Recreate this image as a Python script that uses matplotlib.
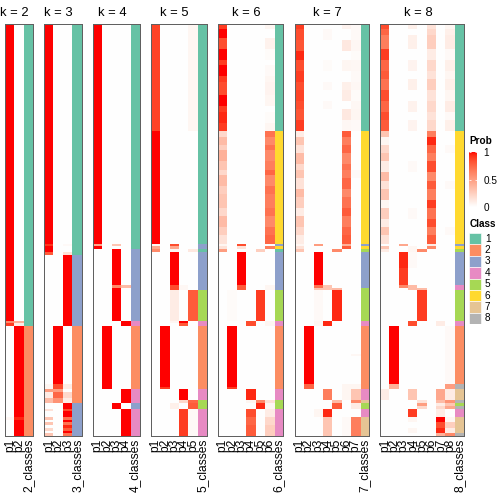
import numpy as np
import matplotlib
matplotlib.use("Agg")
from matplotlib import pyplot as plt
from matplotlib.colors import ListedColormap, to_rgb

plt.rcParams['font.family'] = ['Liberation Sans', 'DejaVu Sans']

n_samples = 150
ks = [2, 3, 4, 5, 6, 7, 8]
class_colors = ['#66C2A5', '#FC8D62', '#8DA0CB', '#E78AC3',
                '#A6D854', '#FFD92F', '#E5C494', '#B3B3B3']
class_labels = ['1', '2', '3', '4', '5', '6', '7', '8']
prob_ticks = [0, 0.5, 1]
prob_tick_labels = ['0', '0.5', '1']

# row blocks, top to bottom: (rows, class, {column: membership prob})
blocks_k2 = [
    (108, 1, {1: 1.0}),
    (1, 1, {1: 0.6, 2: 0.4}),
    (1, 1, {1: 0.9, 2: 0.1}),
    (33, 2, {2: 1.0}),
    (1, 2, {1: 0.04, 2: 0.95}),
    (6, 2, {2: 1.0}),
]

blocks_k3 = [
    (80, 1, {1: 1.0}),
    (1, 1, {1: 0.92, 3: 0.03}),
    (2, 1, {1: 1.0}),
    (1, 1, {1: 0.8, 3: 0.15}),
    (26, 3, {3: 1.0}),
    (21, 2, {2: 1.0}),
    (2, 2, {1: 0.05, 2: 0.85, 3: 0.1}),
    (1, 2, {1: 0.5, 2: 0.5}),
    (2, 2, {1: 0.1, 2: 0.75, 3: 0.2}),
    (2, 2, {1: 0.35, 2: 0.55, 3: 0.1}),
    (2, 3, {3: 1.0}),
    (1, 3, {1: 0.15, 3: 0.85}),
    (2, 3, {3: 1.0}),
    (1, 3, {1: 0.3, 3: 0.7}),
    (1, 3, {3: 1.0}),
    (1, 3, {1: 0.3, 3: 0.7}),
    (1, 3, {3: 0.95}),
    (1, 3, {1: 0.2, 3: 0.8}),
    (1, 3, {3: 1.0}),
    (1, 3, {1: 0.3, 3: 0.7}),
]

blocks_k4 = [
    (80, 1, {1: 1.0}),
    (1, 1, {1: 0.45, 3: 0.3}),
    (1, 1, {1: 1.0}),
    (13, 3, {3: 1.0}),
    (1, 3, {3: 0.6, 4: 0.35}),
    (12, 3, {3: 1.0}),
    (2, 4, {4: 1.0}),
    (23, 2, {2: 1.0}),
    (5, 4, {4: 1.0}),
    (2, 3, {3: 1.0}),
    (10, 4, {4: 1.0}),
]

blocks_k5 = [
    (39, 1, {1: 0.88, 5: 0.05}),
    (41, 1, {1: 1.0}),
    (1, 3, {1: 0.05, 3: 0.85}),
    (1, 3, {1: 0.45, 3: 0.45}),
    (1, 1, {1: 0.6, 3: 0.05, 5: 0.12}),
    (12, 3, {3: 1.0}),
    (2, 3, {3: 0.85, 4: 0.04}),
    (11, 5, {3: 0.1, 5: 0.8}),
    (1, 4, {3: 0.05, 4: 1.0}),
    (1, 4, {4: 0.8}),
    (22, 2, {2: 1.0}),
    (1, 2, {2: 0.9}),
    (4, 4, {4: 1.0}),
    (1, 5, {4: 0.2, 5: 0.75}),
    (2, 5, {3: 0.08, 5: 0.8}),
    (10, 4, {4: 0.9, 5: 0.03}),
]

blocks_k6 = [
    (2, 1, {1: 0.9, 6: 0.05}), (3, 1, {1: 1.0}), (4, 1, {1: 0.85, 6: 0.07}),
    (4, 1, {1: 1.0, 6: 0.02}), (2, 1, {1: 0.9}), (4, 1, {1: 1.0, 6: 0.03}),
    (2, 1, {1: 0.9, 6: 0.05}), (5, 1, {1: 0.85, 6: 0.06}), (4, 1, {1: 1.0, 6: 0.05}),
    (2, 1, {1: 0.9}), (4, 1, {1: 0.95, 6: 0.02}), (3, 1, {1: 0.9, 6: 0.05}),
    (2, 6, {1: 0.2, 6: 0.7}), (3, 6, {1: 0.35, 6: 0.6}), (2, 6, {1: 0.25, 6: 0.7}),
    (4, 6, {1: 0.4, 6: 0.6}), (3, 6, {1: 0.3, 6: 0.65}), (2, 6, {1: 0.2, 6: 0.75}),
    (4, 6, {1: 0.35, 6: 0.6}), (3, 6, {1: 0.25, 6: 0.7}), (5, 6, {1: 0.3, 6: 0.65}),
    (3, 6, {1: 0.2, 6: 0.7}), (4, 6, {1: 0.35, 6: 0.6}), (3, 6, {1: 0.25, 6: 0.7}),
    (3, 6, {1: 0.15, 6: 0.75}),
    (1, 3, {1: 0.05, 3: 0.85}),
    (1, 6, {1: 0.15, 3: 0.15, 6: 0.65}),
    (1, 1, {1: 0.5, 5: 0.25}),
    (12, 3, {3: 1.0}),
    (2, 3, {3: 0.8, 6: 0.05}),
    (11, 5, {2: 0.02, 5: 0.9}),
    (2, 4, {4: 0.85, 6: 0.05}),
    (22, 2, {2: 1.0}),
    (1, 2, {2: 0.9}),
    (4, 4, {4: 0.95}),
    (1, 5, {4: 0.05, 5: 0.6, 6: 0.15}),
    (2, 5, {5: 0.95, 6: 0.05}),
    (3, 4, {4: 0.85, 6: 0.1}), (3, 4, {4: 0.75, 6: 0.2}), (4, 4, {4: 0.8, 6: 0.25}),
]

blocks_k7 = [
    (2, 1, {1: 0.9, 6: 0.06, 7: 0.03}), (4, 1, {1: 0.85, 4: 0.03, 7: 0.03}),
    (4, 1, {1: 0.82, 6: 0.12, 7: 0.04}), (3, 1, {1: 0.95, 7: 0.02}),
    (4, 1, {1: 0.85, 4: 0.02, 6: 0.05, 7: 0.04}), (4, 1, {1: 0.9, 7: 0.03}),
    (3, 1, {1: 0.85, 4: 0.03, 6: 0.08, 7: 0.04}), (4, 1, {1: 0.88, 6: 0.1, 7: 0.02}),
    (3, 1, {1: 0.85, 4: 0.03, 7: 0.04}), (4, 1, {1: 0.82, 6: 0.12, 7: 0.05}),
    (4, 1, {1: 0.9, 6: 0.04, 7: 0.03}),
    (2, 6, {1: 0.1, 6: 0.8}), (3, 6, {1: 0.3, 6: 0.65}), (3, 6, {1: 0.15, 6: 0.75}),
    (4, 6, {1: 0.35, 6: 0.6}), (2, 6, {1: 0.2, 6: 0.7}), (3, 6, {1: 0.3, 6: 0.65, 7: 0.03}),
    (4, 6, {1: 0.15, 6: 0.75}), (3, 6, {1: 0.35, 6: 0.6}), (4, 6, {1: 0.25, 6: 0.7}),
    (3, 6, {1: 0.1, 6: 0.8}), (4, 6, {1: 0.3, 6: 0.65}), (3, 6, {1: 0.2, 6: 0.75}),
    (3, 6, {1: 0.1, 6: 0.8}),
    (1, 3, {1: 0.05, 3: 0.5, 6: 0.4}),
    (1, 6, {1: 0.15, 6: 0.8}),
    (1, 5, {1: 0.3, 5: 0.6}),
    (12, 3, {3: 1.0}),
    (1, 3, {3: 0.7, 4: 0.3}),
    (1, 5, {3: 0.3, 4: 0.3, 5: 0.35}),
    (11, 5, {3: 0.03, 5: 0.95}),
    (2, 4, {3: 0.05, 4: 0.95}),
    (10, 2, {2: 1.0}), (1, 2, {2: 1.0, 7: 0.04}), (10, 2, {2: 1.0}),
    (2, 2, {2: 0.75, 6: 0.05, 7: 0.05}),
    (4, 4, {4: 0.65, 6: 0.05, 7: 0.3}),
    (1, 7, {5: 0.35, 7: 0.6}),
    (2, 5, {5: 0.8, 7: 0.1}),
    (3, 4, {3: 0.05, 4: 0.95}),
    (7, 7, {4: 0.3, 6: 0.03, 7: 0.65}),
]

blocks_k8 = [
    (2, 1, {1: 0.85, 4: 0.08, 6: 0.15, 8: 0.05}), (2, 1, {1: 0.75, 6: 0.2, 8: 0.08}),
    (5, 1, {1: 0.65, 4: 0.08, 6: 0.25, 8: 0.1}), (4, 1, {1: 0.9, 6: 0.1, 8: 0.03}),
    (4, 1, {1: 0.75, 4: 0.06, 6: 0.2, 8: 0.08}), (3, 1, {1: 0.8, 6: 0.15, 8: 0.05}),
    (4, 1, {1: 0.7, 4: 0.08, 6: 0.25, 8: 0.08}), (4, 1, {1: 0.85, 6: 0.15, 8: 0.05}),
    (4, 1, {1: 0.75, 4: 0.07, 6: 0.2, 8: 0.1}), (3, 1, {1: 0.85, 6: 0.15, 8: 0.03}),
    (4, 1, {1: 0.8, 4: 0.06, 6: 0.2, 8: 0.08}),
    (2, 6, {1: 0.3, 6: 0.65}), (3, 6, {1: 0.05, 6: 0.95}), (3, 6, {1: 0.2, 6: 0.75, 8: 0.03}),
    (3, 6, {1: 0.3, 6: 0.65}), (4, 6, {1: 0.1, 4: 0.03, 6: 0.85}), (3, 6, {1: 0.35, 6: 0.6}),
    (3, 6, {1: 0.15, 6: 0.8, 8: 0.03}), (4, 6, {1: 0.3, 6: 0.65}), (3, 6, {1: 0.05, 6: 0.9}),
    (4, 6, {1: 0.25, 4: 0.03, 6: 0.7}), (3, 6, {1: 0.1, 6: 0.85}), (3, 6, {1: 0.3, 6: 0.65, 8: 0.03}),
    (3, 6, {1: 0.15, 6: 0.8}),
    (1, 3, {3: 0.45, 6: 0.1}),
    (1, 6, {1: 0.3, 4: 0.05, 6: 0.6}),
    (1, 5, {1: 0.1, 4: 0.05, 5: 0.6}),
    (6, 3, {3: 0.95, 4: 0.03}), (6, 3, {3: 0.9}),
    (1, 4, {3: 0.6, 4: 0.35}),
    (1, 4, {4: 0.35, 5: 0.35}),
    (11, 5, {5: 0.9}),
    (2, 4, {4: 0.85, 7: 0.1}),
    (21, 2, {2: 1.0, 8: 0.03}),
    (2, 8, {2: 0.4, 8: 0.5}),
    (4, 7, {1: 0.1, 4: 0.3, 7: 0.45, 8: 0.1}),
    (1, 8, {5: 0.15, 7: 0.35, 8: 0.55}),
    (1, 5, {5: 0.5, 7: 0.1, 8: 0.3}),
    (1, 8, {5: 0.2, 7: 0.2, 8: 0.45}),
    (3, 4, {4: 0.9, 7: 0.1}),
    (2, 7, {4: 0.05, 7: 1.0, 8: 0.05}), (2, 7, {7: 0.85, 8: 0.25}), (2, 7, {4: 0.05, 7: 0.95, 8: 0.1}),
    (1, 8, {7: 0.4, 8: 0.6}),
]

all_blocks = {2: blocks_k2, 3: blocks_k3, 4: blocks_k4, 5: blocks_k5,
              6: blocks_k6, 7: blocks_k7, 8: blocks_k8}


# white -> red ramp interpolated in LAB space (like colorRamp2)
def srgb_to_lab(rgb):
    c = np.asarray(rgb, dtype=float)
    lin = np.where(c <= 0.04045, c / 12.92, ((c + 0.055) / 1.055) ** 2.4)
    m = np.array([[0.4124, 0.3576, 0.1805], [0.2126, 0.7152, 0.0722], [0.0193, 0.1192, 0.9505]])
    xyz = m @ lin / np.array([0.95047, 1.0, 1.08883])
    f = np.where(xyz > (6 / 29) ** 3, np.cbrt(xyz), xyz / (3 * (6 / 29) ** 2) + 4 / 29)
    return np.array([116 * f[1] - 16, 500 * (f[0] - f[1]), 200 * (f[1] - f[2])])


def lab_to_srgb(lab):
    L, a, b = lab
    fy = (L + 16) / 116
    f = np.array([fy + a / 500, fy, fy - b / 200])
    xyz = np.where(f > 6 / 29, f ** 3, 3 * (6 / 29) ** 2 * (f - 4 / 29)) * np.array([0.95047, 1.0, 1.08883])
    minv = np.array([[3.2406, -1.5372, -0.4986], [-0.9689, 1.8758, 0.0415], [0.0557, -0.2040, 1.0570]])
    lin = np.clip(minv @ xyz, 0, 1)
    return np.where(lin <= 0.0031308, 12.92 * lin, 1.055 * lin ** (1 / 2.4) - 0.055)


lab0, lab1 = srgb_to_lab(to_rgb('white')), srgb_to_lab(to_rgb('red'))
ramp = [np.clip(lab_to_srgb(lab0 + t * (lab1 - lab0)), 0, 1) for t in np.linspace(0, 1, 256)]
prob_cmap = ListedColormap(ramp)

fig = plt.figure(figsize=(7, 7), dpi=72)
W = H = 504.0
col_w, gap, left0 = 9.33, 11.2, 5.3
top_px, bot_px = 24.0, 436.0

x = left0
for k in ks:
    prob = np.zeros((n_samples, k))
    cls = np.zeros(n_samples, dtype=int)
    r = 0
    for n, c, p in all_blocks[k]:
        for col, v in p.items():
            prob[r:r + n, col - 1] = v
        cls[r:r + n] = c
        r += n
    assert r == n_samples, (k, r)

    img = np.zeros((n_samples, k + 1, 3))
    img[:, :k, :] = prob_cmap(prob)[:, :, :3]
    img[:, k, :] = [to_rgb(class_colors[c - 1]) for c in cls]

    width = (k + 1) * col_w
    ax = fig.add_axes([x / W, 1 - bot_px / H, width / W, (bot_px - top_px) / H])
    ax.imshow(img, aspect='auto', interpolation='nearest',
              extent=(0, k + 1, n_samples, 0))
    ax.set_xticks(np.arange(k + 1) + 0.5)
    ax.set_xticklabels([f"p{i + 1}" for i in range(k)] + [f"{k}_classes"],
                       rotation=90, fontsize=12)
    ax.tick_params(axis='x', length=0, pad=3)
    ax.set_yticks([])
    for s in ax.spines.values():
        s.set_color('#606060')
        s.set_linewidth(1.0)
    fig.text((x + width / 2 - 4.5) / W, 1 - 15.7 / H, f"k = {k}",
             ha='center', va='baseline', fontsize=13)
    x += width + gap

# Prob legend
lx = 469.3
fig.text(lx / W, 1 - 140.7 / H, "Prob", fontsize=10, fontweight='bold', va='center', ha='left')
cax = fig.add_axes([lx / W, 1 - 207.5 / H, 8 / W, 57.5 / H])
grad = np.linspace(0, 1, 200).reshape(-1, 1)
cax.imshow(grad, cmap=prob_cmap, aspect='auto', origin='lower', extent=(0, 1, 0, 1))
cax.set_xticks([])
cax.yaxis.tick_right()
cax.set_yticks(prob_ticks)
cax.set_yticklabels(prob_tick_labels, fontsize=10)
cax.tick_params(axis='y', direction='in', length=2, color='white', pad=6, left=True)
cax.set_ylim(-0.01, 1.04)
for s in cax.spines.values():
    s.set_visible(False)

# Class legend
fig.text(lx / W, 1 - 224.3 / H, "Class", fontsize=10, fontweight='bold', va='center', ha='left')
kax = fig.add_axes([lx / W, 1 - 324 / H, 30 / W, 91 / H])
kax.barh(np.arange(len(class_labels)), [11.7 / 30] * len(class_labels), height=1.0, left=0,
         color=class_colors, edgecolor='white', linewidth=0.6)
for i, lab in enumerate(class_labels):
    kax.text(0.52, i, lab, va='center', ha='left', fontsize=10)
kax.set_xlim(0, 1)
kax.set_ylim(len(class_labels) - 0.5, -0.5)
kax.axis('off')

fig.savefig("out.png", dpi=72)
